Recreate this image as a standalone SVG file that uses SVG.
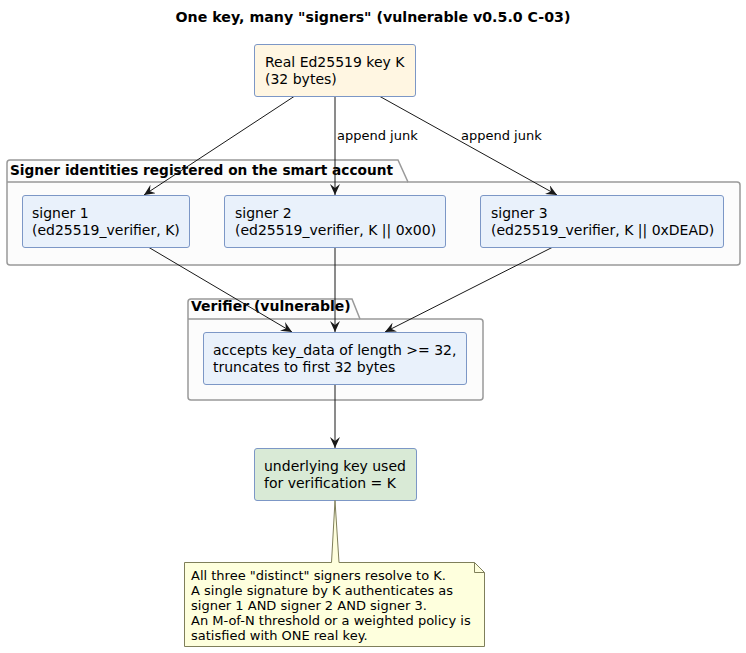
<svg xmlns="http://www.w3.org/2000/svg" width="746" height="653" viewBox="0 0 746 653">
<defs>
<style>
text{font-family:"DejaVu Sans","Noto Sans",sans-serif;fill:#000}
.t{font-size:14px}
.l{font-size:13px}
.b{font-weight:bold;font-size:14px}
.node{stroke:#7C97C6;stroke-width:1}
.blue{fill:#E9F1FB}
.pkg{fill:#FCFCFC;stroke:#999;stroke-width:1.5}
.c{stroke:#181818;stroke-width:1;fill:none}
</style>
<marker id="ah" viewBox="0 0 12 10" refX="11" refY="5" markerWidth="12" markerHeight="10" markerUnits="userSpaceOnUse" orient="auto">
<path d="M0,0 L11,5 L0,10 L4,5 Z" fill="#181818"/>
</marker>
</defs>
<rect width="746" height="653" fill="#fff"/>
<text x="373" y="22" text-anchor="middle" class="b" style="font-size:14.2px">One key, many "signers" (vulnerable v0.5.0 C-03)</text>

<g id="pkg-signers">
<path class="pkg" d="M7,182 L7,163 Q7,160 10,160 L398,160 L408,182 L737,182 Q740,182 740,185 L740,262 Q740,265 737,265 L10,265 Q7,265 7,262 Z"/>
<line x1="7" y1="182" x2="408" y2="182" stroke="#999" stroke-width="1.5"/>
<text x="10" y="175" class="b" style="font-size:13.7px">Signer identities registered on the smart account</text>
</g>
<g id="pkg-verifier">
<path class="pkg" d="M188,319 L188,302 Q188,299 191,299 L352,299 L360,319 L480,319 Q483,319 483,322 L483,397 Q483,400 480,400 L191,400 Q188,400 188,397 Z"/>
<line x1="188" y1="319" x2="360" y2="319" stroke="#999" stroke-width="1.5"/>
<text x="191" y="311" class="b">Verifier (vulnerable)</text>
</g>

<g id="connectors">
<line class="c" x1="294" y1="96.5" x2="144" y2="195" marker-end="url(#ah)"/>
<line class="c" x1="335" y1="96.5" x2="335" y2="195" marker-end="url(#ah)"/>
<line class="c" x1="380" y1="96.5" x2="557" y2="195" marker-end="url(#ah)"/>
<text x="337" y="140" class="l">append junk</text>
<text x="461" y="140" class="l">append junk</text>
<line class="c" x1="149" y1="247.5" x2="292" y2="332" marker-end="url(#ah)"/>
<line class="c" x1="335" y1="247.5" x2="335" y2="332" marker-end="url(#ah)"/>
<line class="c" x1="552" y1="247.5" x2="385" y2="332" marker-end="url(#ah)"/>
<line class="c" x1="335" y1="384.5" x2="335" y2="448" marker-end="url(#ah)"/>
</g>

<g id="key">
<rect x="254.5" y="44.5" width="161" height="52" rx="2.5" class="node" fill="#FFF6E2"/>
<text x="265" y="67" class="t">Real Ed25519 key K</text>
<text x="265" y="84" class="t">(32 bytes)</text>
</g>
<g id="signer1">
<rect x="22.5" y="195.5" width="167" height="52" rx="2.5" class="node blue"/>
<text x="32" y="218" class="t">signer 1</text>
<text x="32" y="235" class="t">(ed25519_verifier, K)</text>
</g>
<g id="signer2">
<rect x="224.5" y="195.5" width="221" height="52" rx="2.5" class="node blue"/>
<text x="235" y="218" class="t">signer 2</text>
<text x="235" y="235" class="t">(ed25519_verifier, K || 0x00)</text>
</g>
<g id="signer3">
<rect x="480.5" y="195.5" width="243" height="52" rx="2.5" class="node blue"/>
<text x="491" y="218" class="t">signer 3</text>
<text x="491" y="235" class="t">(ed25519_verifier, K || 0xDEAD)</text>
</g>
<g id="verifier">
<rect x="203.5" y="332.5" width="263" height="52" rx="2.5" class="node blue"/>
<text x="213" y="355" class="t">accepts key_data of length &gt;= 32,</text>
<text x="213" y="372" class="t">truncates to first 32 bytes</text>
</g>
<g id="result">
<rect x="254.5" y="448.5" width="162" height="52" rx="2.5" class="node" fill="#D9EAD6"/>
<text x="264" y="471" class="t">underlying key used</text>
<text x="264" y="488" class="t">for verification = K</text>
</g>
<g id="note">
<path d="M184.5,562.5 L331.5,562.5 L335,500.5 L339,562.5 L474.5,562.5 L484.5,572.5 L484.5,646.5 L184.5,646.5 Z" fill="#FEFFDD" stroke="#7F7F5A" stroke-width="1"/>
<path d="M474.5,562.5 L474.5,572.5 L484.5,572.5" fill="none" stroke="#7F7F5A" stroke-width="1"/>
<text x="191" y="580" class="l">All three "distinct" signers resolve to K.</text>
<text x="191" y="595" class="l">A single signature by K authenticates as</text>
<text x="191" y="610" class="l">signer 1 AND signer 2 AND signer 3.</text>
<text x="191" y="625" class="l">An M-of-N threshold or a weighted policy is</text>
<text x="191" y="640" class="l">satisfied with ONE real key.</text>
</g>
</svg>
